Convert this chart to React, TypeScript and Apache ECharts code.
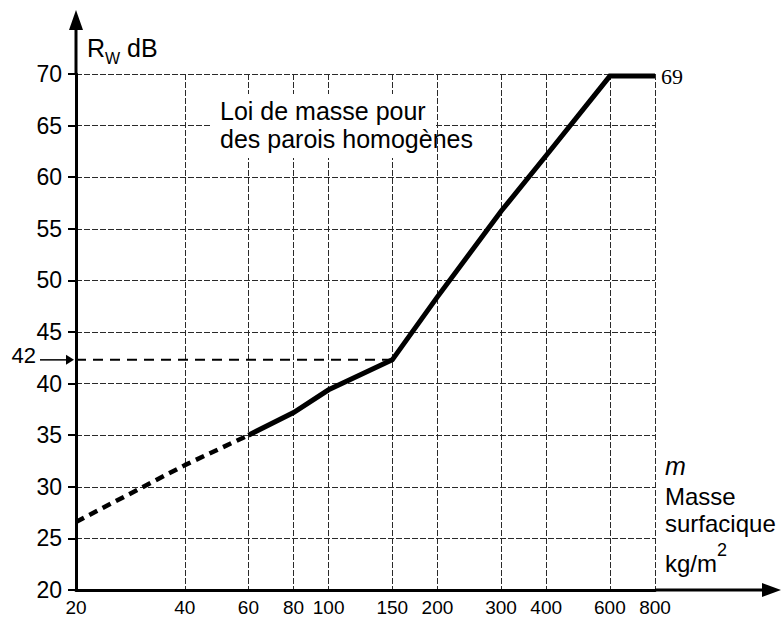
import React, { useEffect, useRef } from "react";
import * as echarts from "echarts";

// ---- data ----
const X_TICKS = [20, 40, 60, 80, 100, 150, 200, 300, 400, 600, 800];
const X_MIN = 20;
const X_MAX = 800;
const Y_MIN = 20;
const Y_MAX = 70;
const Y_STEP = 5;

// extrapolated (dashed) part of the mass law
const extrapolatedMass = [20, 40, 60];
const extrapolatedDb = [26.6, 32.1, 35.0];

// plotted curve (solid)
const curveMass = [60, 80, 100, 150, 200, 300, 400, 600, 800];
const curveDb = [35.0, 37.2, 39.4, 42.3, 48.4, 56.7, 62.1, 69.8, 69.8];

// reference line at the knee of the curve
const kneeMass = [20, 150];
const kneeDb = [42.3, 42.3];
const kneeLabel = "42";
const plateauLabel = "69";

const titleLines = ["Loi de masse pour", "des parois homogènes"];
const yNameMain = "R";
const yNameSub = "W";
const yNameUnit = "dB";
const xNameLines = ["m", "Masse", "surfacique"];
const xUnitMain = "kg/m";
const xUnitSup = "2";

const SANS = "'Liberation Sans', Arial, Helvetica, sans-serif";
const NARROW = "'Liberation Sans Narrow', 'Liberation Sans', Arial, sans-serif";
const SERIF = "'Liberation Serif', 'Times New Roman', serif";

const zip = (xs: number[], ys: number[]) => xs.map((x, i) => [x, ys[i]]);

export default function App() {
  const ref = useRef<HTMLDivElement>(null);

  useEffect(() => {
    if (!ref.current) return;
    const chart = echarts.init(ref.current, null, { renderer: "svg" });

    const gridLeft = 76;
    const gridTop = 74;
    const gridWidth = 579;
    const gridHeight = 516;

    const gridLine = { color: "#2a2a2a", width: 1, type: [6, 2] as number[] };

    chart.setOption({
      animation: false,
      backgroundColor: "#ffffff",
      grid: {
        left: gridLeft,
        top: gridTop,
        width: gridWidth,
        height: gridHeight,
        outerBoundsMode: "none",
      },
      xAxis: {
        type: "log",
        logBase: 10,
        min: X_MIN,
        max: X_MAX,
        axisLine: { show: true, lineStyle: { color: "#000", width: 3 } },
        axisTick: { show: false, customValues: X_TICKS },
        minorTick: { show: false },
        axisLabel: {
          customValues: X_TICKS,
          color: "#000",
          fontFamily: NARROW,
          fontSize: 19,
          margin: 8,
          formatter: (v: number) => String(Math.round(v)),
        },
        splitLine: { show: true, lineStyle: gridLine },
      },
      yAxis: {
        type: "value",
        min: Y_MIN,
        max: Y_MAX,
        interval: Y_STEP,
        axisLine: { show: true, lineStyle: { color: "#000", width: 3 } },
        axisTick: { show: true, length: 8, lineStyle: { color: "#000", width: 2 } },
        axisLabel: {
          color: "#000",
          fontFamily: NARROW,
          fontSize: 23,
          margin: 14,
        },
        splitLine: { show: true, lineStyle: gridLine },
      },
      series: [
        {
          type: "line",
          data: zip(kneeMass, kneeDb),
          symbol: "none",
          lineStyle: { color: "#000", width: 2, type: [10, 7], cap: "butt" },
          z: 3,
        },
        {
          type: "line",
          data: zip(extrapolatedMass, extrapolatedDb),
          symbol: "none",
          lineStyle: { color: "#000", width: 4.5, type: [9, 6], cap: "butt" },
          z: 4,
        },
        {
          type: "line",
          data: zip(curveMass, curveDb),
          symbol: "none",
          lineStyle: { color: "#000", width: 5, join: "miter" },
          endLabel: {
            show: true,
            formatter: plateauLabel,
            color: "#000",
            fontFamily: SERIF,
            fontSize: 22,
            distance: 6,
          },
          z: 5,
        },
      ],
    });

    const yPix = (v: number) => chart.convertToPixel({ yAxisIndex: 0 }, v) as number;
    const xPix = (v: number) => chart.convertToPixel({ xAxisIndex: 0 }, v) as number;

    const x0 = xPix(X_MIN);
    const x1 = xPix(X_MAX);
    const yBottom = yPix(Y_MIN);
    const yTop = yPix(Y_MAX);
    const yKnee = yPix(kneeDb[0]);

    const black = { fill: "#000" };

    chart.setOption({
      graphic: [
        // y-axis arrow
        { type: "line", shape: { x1: x0, y1: yTop, x2: x0, y2: 26 }, style: { stroke: "#000", lineWidth: 3 }, z: 10 },
        { type: "polygon", shape: { points: [[x0, 10], [x0 - 7, 30], [x0 + 7, 30]] }, style: black, z: 10 },
        // x-axis arrow
        { type: "line", shape: { x1: x1, y1: yBottom, x2: 766, y2: yBottom }, style: { stroke: "#000", lineWidth: 3 }, z: 10 },
        { type: "polygon", shape: { points: [[781, yBottom], [762, yBottom - 7], [762, yBottom + 7]] }, style: black, z: 10 },
        // knee arrow + label
        { type: "line", shape: { x1: 40, y1: yKnee, x2: x0 - 6, y2: yKnee }, style: { stroke: "#000", lineWidth: 1.5 }, z: 10 },
        { type: "polygon", shape: { points: [[x0 - 2, yKnee], [x0 - 10, yKnee - 5], [x0 - 10, yKnee + 5]] }, style: black, z: 10 },
        {
          type: "text",
          x: 36,
          y: yKnee - 4,
          style: { text: kneeLabel, fill: "#000", fontFamily: NARROW, fontSize: 22, align: "right", verticalAlign: "middle" },
          z: 10,
        },
        // y-axis name (R with subscript W, dB)
        {
          type: "text",
          x: 87,
          y: 48,
          style: {
            text: `{r|${yNameMain}}{w|${yNameSub}}{r| ${yNameUnit}}`,
            verticalAlign: "middle",
            rich: {
              r: { fill: "#000", fontFamily: SANS, fontSize: 25, lineHeight: 36, verticalAlign: "middle" },
              w: { fill: "#000", fontFamily: SANS, fontSize: 16, lineHeight: 16, verticalAlign: "bottom" },
            },
          },
          z: 10,
        },
        // title with white backing
        {
          type: "group",
          z: 20,
          children: [
            { type: "rect", shape: { x: 212, y: 94, width: 224, height: 64 }, style: { fill: "#fff" }, z: 20 },
            { type: "text", x: 220, y: 111, style: { text: titleLines[0], fill: "#000", fontFamily: SANS, fontSize: 25, verticalAlign: "middle" }, z: 21 },
            { type: "text", x: 220, y: 139, style: { text: titleLines[1], fill: "#000", fontFamily: SANS, fontSize: 25, verticalAlign: "middle" }, z: 21 },
          ],
        },
        // x-axis name
        { type: "text", x: x1 + 10, y: 466, style: { text: xNameLines[0], fill: "#000", fontFamily: SANS, fontStyle: "italic", fontSize: 25, verticalAlign: "middle" }, z: 10 },
        { type: "text", x: x1 + 10, y: 496, style: { text: xNameLines[1], fill: "#000", fontFamily: SANS, fontSize: 24, verticalAlign: "middle" }, z: 10 },
        { type: "text", x: x1 + 10, y: 523, style: { text: xNameLines[2], fill: "#000", fontFamily: SANS, fontSize: 24, verticalAlign: "middle" }, z: 10 },
        {
          type: "text",
          x: x1 + 10,
          y: 558,
          style: {
            text: `{a|${xUnitMain}}{s|${xUnitSup}}`,
            verticalAlign: "middle",
            rich: {
              a: { fill: "#000", fontFamily: SANS, fontSize: 24, lineHeight: 34, verticalAlign: "bottom" },
              s: { fill: "#000", fontFamily: SANS, fontSize: 18, lineHeight: 18, verticalAlign: "top" },
            },
          },
          z: 10,
        },
      ],
    });

    return () => chart.dispose();
  }, []);

  return (
    <div
      ref={ref}
      style={{ position: "fixed", left: 0, top: 0, width: 782, height: 637, background: "#fff" }}
    />
  );
}
